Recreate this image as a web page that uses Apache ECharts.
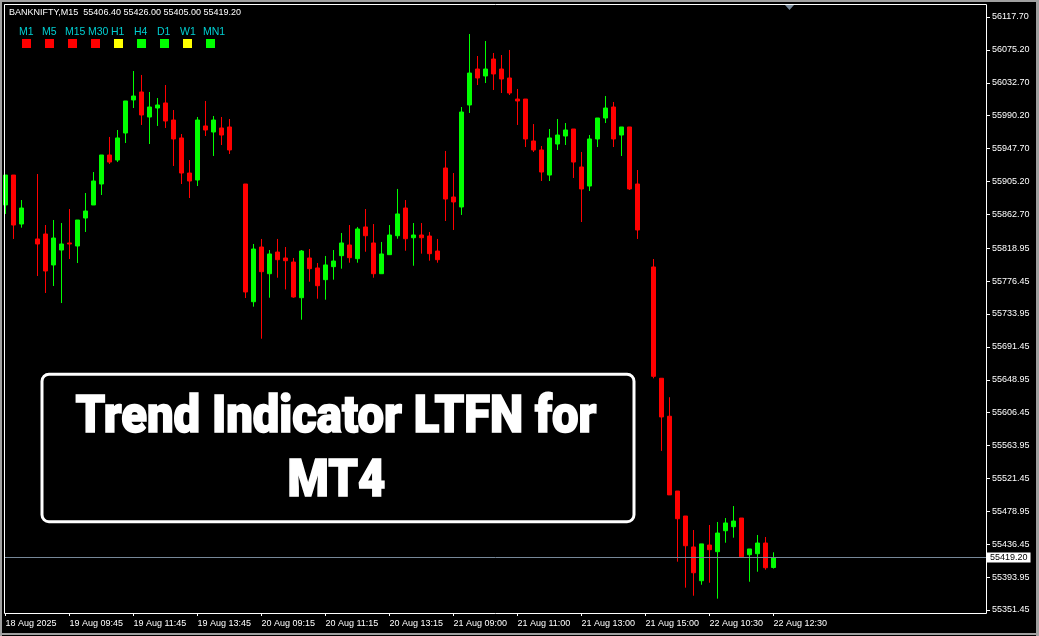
<!DOCTYPE html>
<html>
<head>
<meta charset="utf-8">
<script src="https://cdn.jsdelivr.net/npm/echarts@6/dist/echarts.min.js"></script>
<style>
html,body{margin:0;padding:0;background:#000;}
#chart{width:1039px;height:636px;}
</style>
</head>
<body>
<div id="chart"></div>
<script>
// ---- Data (BANKNIFTY, M15) ----
const symbolTitle = 'BANKNIFTY,M15  55406.40 55426.00 55405.00 55419.20';

const opens = [55874.8,55913.5,55850.2,null,55830.9,55837.3,55797.3,55816.6,55825.7,55821.8,
  55858.0,55874.8,55901.9,55939.4,55932.9,55967.8,56010.5,56020.8,55988.5,56000.1,
  56006.6,55984.6,55961.4,55916.1,55907.1,55976.9,55969.1,55974.3,55975.6,null,
  55901.9,55749.8,55820.5,55786.0,55814.0,55806.3,55801.1,55755.0,55806.3,55793.4,
  55778.3,55795.1,55809.3,55823.1,55805.4,55846.4,55825.7,55786.0,55810.6,55835.1,
  55870.9,55832.5,55836.0,55834.7,55815.3,55922.6,55885.1,55872.2,56004.0,56050.5,
  56041.5,56063.4,56050.5,56038.9,56011.7,56011.7,55957.5,55945.9,55913.5,55953.6,
  55963.9,55973.0,55923.9,55899.3,55960.1,55987.2,56001.4,55965.2,55975.6,55901.9,
  null,55794.7,55650.9,55601.8,55505.2,55472.9,55432.9,55389.3,55435.4,55426.8,
  55453.9,55459.1,55470.3,55422.9,55424.2,55438.0,55406.4];

const closes = [55913.5,55848.9,55870.9,null,55824.4,55789.5,55832.1,55824.4,55824.4,55855.4,
  55867.0,55905.8,55939.4,55930.3,55961.4,56009.2,56015.6,55991.1,56001.4,56004.0,
  55983.3,55960.1,55916.1,55905.8,55984.6,55971.7,55984.6,55965.2,55945.9,null,
  55762.4,55817.9,55788.6,55811.5,55804.1,55802.8,55755.9,55815.3,55792.5,55770.5,
  55797.3,55802.4,55825.7,55806.7,55843.8,55835.1,55786.0,55811.5,55836.0,55863.2,
  55831.2,55836.0,55832.5,55811.9,55804.1,55882.5,55878.7,55994.9,56045.3,56038.9,
  56050.5,56044.1,56037.6,56019.5,56009.2,55960.1,55945.9,55917.4,55961.4,55965.2,
  55971.7,55930.3,55895.5,55960.1,55987.2,56000.1,55960.1,55975.6,55895.5,55842.5,
  null,55653.4,55600.9,55500.2,55469.4,55434.5,55399.6,55436.9,55429.4,55450.9,
  55463.9,55466.4,55420.3,55430.3,55438.0,55406.1,55419.2];

const lows = [55863.2,55830.9,55845.5,null,55783.0,55761.1,55770.1,55748.1,55805.0,55799.8,
  55839.9,55874.8,55887.7,55927.8,55930.3,55954.9,56000.1,55978.2,55953.6,55976.9,
  55974.3,55925.2,55901.9,55883.8,55899.3,55963.9,55938.1,55952.3,55940.7,null,
  55754.6,55743.4,55702.0,55755.0,55780.8,55765.7,55755.0,55726.6,55775.7,55753.7,
  55752.4,55778.3,55792.5,55800.2,55800.2,55814.4,55780.8,55786.0,55810.6,55831.2,
  55815.7,55796.3,55811.9,55802.8,55800.2,55854.1,55842.5,55861.9,55993.7,56029.8,
  56032.4,56023.4,56019.5,56016.9,55978.2,55949.7,55943.3,55905.8,55905.8,55945.9,
  55952.3,55909.7,55852.8,55892.9,55949.7,55980.7,55949.7,55938.1,55894.2,55830.9,
  null,55650.8,55557.0,55500.2,55413.9,55380.3,55369.9,55384.1,55386.7,55366.1,
  55438.4,55444.9,55420.3,55388.0,55400.9,55403.5,55405.0];

const highs = [55913.5,55913.5,55881.2,null,55914.8,55848.9,55855.4,55851.5,55869.6,55855.4,
  55890.3,55917.4,55939.4,55962.7,55971.7,56009.2,56047.9,56042.8,56020.8,56013.0,
  56029.8,55997.5,55966.5,55932.9,55988.5,56009.2,55989.8,55988.5,55985.9,null,
  55901.9,55824.4,55830.9,55816.6,55830.9,55820.5,55806.3,55816.6,55817.9,55799.8,
  55808.9,55816.6,55838.6,55848.9,55846.4,55869.6,55850.2,55827.0,55848.9,55895.5,
  55881.2,55851.5,55851.5,55839.9,55830.9,55944.6,55916.1,56001.4,56095.7,56067.3,
  56086.7,56071.2,56068.6,56075.1,56024.7,56011.7,55979.4,55951.0,55973.0,55985.9,
  55980.7,55973.0,55943.3,55965.2,55987.2,56015.6,56007.9,55975.6,55975.6,55920.0,
  null,55805.0,55650.9,55626.4,55505.2,55472.9,55454.8,55436.9,55461.3,55465.2,
  55470.3,55485.8,55470.3,55430.3,55448.4,55445.8,55426.0];

// time-axis tick labels (every 8th bar)
const timeTickBars = [0,8,16,24,32,40,48,56,64,72,80,88,96];
const timeTickLabels = ['18 Aug 2025','19 Aug 09:45','19 Aug 11:45','19 Aug 13:45','20 Aug 09:15',
  '20 Aug 11:15','20 Aug 13:15','21 Aug 09:00','21 Aug 11:00','21 Aug 13:00','21 Aug 15:00',
  '22 Aug 10:30','22 Aug 12:30'];

// price-axis tick labels
const priceTicks = [56117.70,56075.20,56032.70,55990.20,55947.70,55905.20,55862.70,55818.95,
  55776.45,55733.95,55691.45,55648.95,55606.45,55563.95,55521.45,55478.95,55436.45,55393.95,55351.45];

// timeframe trend panel
const timeframes = ['M1','M5','M15','M30','H1','H4','D1','W1','MN1'];
const trendStates = ['down','down','down','down','flat','up','up','flat','up'];

const bannerLines = ['Trend Indicator LTFN for', 'MT4'];

// ---- Layout / style ----
const W = 1039, H = 636;
const G = {left: 5, top: 5, right: 53, bottom: 23};
const plotW = W - G.left - G.right;   // 981
const SLOT = 8;                        // px per bar
const xMin = -0.0625;
const xMax = xMin + plotW / SLOT;
const yMax = 56133.21, yMin = 55347.58;
const stateColor = {down: '#ff0000', up: '#00ff00', flat: '#ffff00'};
const FONT_SMALL = '9px "Liberation Sans", Arial, sans-serif';

const candleData = [];
for (let i = 0; i < opens.length; i++) {
  if (opens[i] == null) continue;
  candleData.push([i, opens[i], closes[i], lows[i], highs[i]]);
}
const lastClose = closes[closes.length - 1];

// banner font scaling
const bannerFont = '900 52px Roboto, "Liberation Sans", sans-serif';
const mctx = document.createElement('canvas').getContext('2d');
mctx.font = bannerFont;
const bannerScale = 521 / mctx.measureText(bannerLines[0]).width;

const graphic = [];
// window frame (gray)
graphic.push({type:'rect', shape:{x:0,y:0,width:W,height:2}, style:{fill:'#a0a0a0'}, z:100});
graphic.push({type:'rect', shape:{x:0,y:0,width:2,height:H}, style:{fill:'#a0a0a0'}, z:100});
graphic.push({type:'rect', shape:{x:W-3,y:0,width:3,height:H}, style:{fill:'#a0a0a0'}, z:100});
graphic.push({type:'rect', shape:{x:0,y:H-3,width:W,height:2}, style:{fill:'#a0a0a0'}, z:100});
// chart frame (white)
graphic.push({type:'rect', shape:{x:4.5,y:4.5,width:982,height:609}, style:{fill:null, stroke:'#ffffff', lineWidth:1}, z:50, silent:true});
// chart shift marker
graphic.push({type:'polygon', shape:{points:[[785,5],[794,5],[789.5,10]]}, style:{fill:'#778899'}, z:60});
// title
graphic.push({type:'text', x:9, y:13, style:{text:symbolTitle, fill:'#ffffff', font:FONT_SMALL, textAlign:'left', textVerticalAlign:'middle'}, z:60});
// timeframe panel
timeframes.forEach((tf, i) => {
  graphic.push({type:'text', x:19 + 23*i, y:32, style:{text:tf, fill:'#00ced1', font:'10.5px "Liberation Sans", Arial, sans-serif', textAlign:'left', textVerticalAlign:'middle'}, z:60});
  graphic.push({type:'rect', shape:{x:22 + 23*i, y:39, width:9, height:9}, style:{fill:stateColor[trendStates[i]]}, z:60});
});
// banner
graphic.push({type:'rect', shape:{x:42, y:374.2, width:592, height:147.6, r:7}, style:{fill:'#000000', stroke:'#ffffff', lineWidth:3}, z:70});
graphic.push({type:'text', x:336, y:419, scaleX:bannerScale, style:{text:bannerLines[0], fill:'#ffffff', stroke:'#ffffff', lineWidth:1.6, font:bannerFont, textAlign:'center', textVerticalAlign:'middle'}, z:71});
graphic.push({type:'text', x:336.5, y:483, scaleX:bannerScale, style:{text:bannerLines[1], fill:'#ffffff', stroke:'#ffffff', lineWidth:1.6, font:bannerFont, textAlign:'center', textVerticalAlign:'middle'}, z:71});

const chart = echarts.init(document.getElementById('chart'), null, {renderer:'canvas'});
chart.setOption({
  backgroundColor: '#000000',
  animation: false,
  grid: {left: G.left, top: G.top, right: G.right, bottom: G.bottom, containLabel: false},
  xAxis: {
    type: 'value', min: xMin, max: xMax,
    axisLine: {show: false, onZero: false},
    splitLine: {show: false},
    axisTick: {show: true, length: 3, lineStyle: {color: '#ffffff'}, customValues: timeTickBars},
    axisLabel: {
      show: true, customValues: timeTickBars, color: '#ffffff',
      fontFamily: '"Liberation Sans", Arial, sans-serif', fontSize: 9,
      align: 'left', margin: 6,
      formatter: v => timeTickLabels[timeTickBars.indexOf(Math.round(v))] || ''
    }
  },
  yAxis: {
    type: 'value', position: 'right', min: yMin, max: yMax, scale: true,
    axisLine: {show: false, onZero: false},
    splitLine: {show: false},
    axisTick: {show: true, length: 4, lineStyle: {color: '#ffffff'}, customValues: priceTicks},
    axisLabel: {
      show: true, customValues: priceTicks, color: '#ffffff',
      fontFamily: '"Liberation Sans", Arial, sans-serif', fontSize: 9,
      margin: 6, formatter: v => v.toFixed(2)
    }
  },
  series: [{
    type: 'candlestick',
    data: candleData,
    encode: {x: 0, y: [1, 2, 3, 4]},
    barWidth: 4,
    clip: true,
    itemStyle: {color: '#00ff00', color0: '#ff0000', borderColor: '#00ff00', borderColor0: '#ff0000', borderWidth: 1},
    markLine: {
      silent: true, symbol: ['none', 'none'], animation: false,
      lineStyle: {color: '#778899', width: 1, type: 'solid'},
      label: {show: true, position: 'end', distance: 1, formatter: p => p.value.toFixed(2),
        color: '#000000', backgroundColor: '#ffffff', padding: [1, 3, 0, 3],
        fontFamily: '"Liberation Sans", Arial, sans-serif', fontSize: 9},
      data: [{yAxis: lastClose}]
    }
  }],
  graphic: graphic
});
</script>
</body>
</html>
